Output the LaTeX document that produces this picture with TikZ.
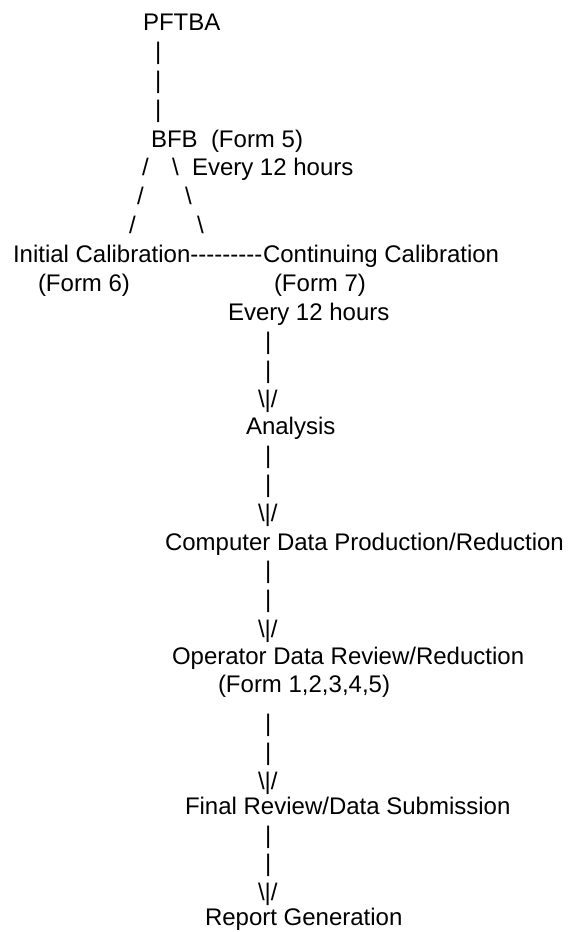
\documentclass[tikz,border=0pt]{standalone}
\usepackage{fontspec}
\setmainfont{Liberation Sans}
\newcommand{\hy}{-\kern0pt}
\newcommand{\arrowglyph}{\textbackslash\kern0pt|\kern0pt/}
\begin{document}
\begin{tikzpicture}[x=1pt,y=-1pt,
  lbl/.style={anchor=base west, inner sep=0pt, outer sep=0pt, font=\fontsize{24}{29}\selectfont, text=black}]
\useasboundingbox (0,0) rectangle (580,932);
% top
\node[lbl] (pftba) at (143,30) {PFTBA};
\node[lbl] (pa1) at (155,59) {|};
\node[lbl] (pa2) at (155,88) {|};
\node[lbl] (pa3) at (155,117) {|};
\node[lbl] (bfb) at (151,147) {BFB\ \ (Form 5)};
\node[lbl] (sl1) at (142,175) {/};
\node[lbl] (bs1) at (172,175) {\textbackslash};
\node[lbl] (ev1) at (192,175) {Every 12 hours};
\node[lbl] (sl2) at (137,204) {/};
\node[lbl] (bs2) at (185,204) {\textbackslash};
\node[lbl] (sl3) at (129,233) {/};
\node[lbl] (bs3) at (197,233) {\textbackslash};
% calibrations
\node[lbl] (ic) at (13,262) {Initial Calibration};
\node[lbl] (cc) at (263,262) {Continuing Calibration};
\node[lbl] (dash) at (ic.base east) {\hy\hy\hy\hy\hy\hy\hy\hy\hy};
\node[lbl] (f6) at (38,291) {(Form 6)};
\node[lbl] (f7) at (274,291) {(Form 7)};
\node[lbl] (ev2) at (228,320) {Every 12 hours};
% main column
\node[lbl] (pb1) at (265,349) {|};
\node[lbl] (pb2) at (265,378) {|};
\node[lbl] (ab) at (258,407) {\arrowglyph};
\node[lbl] (an) at (246,434) {Analysis};
\node[lbl] (pc1) at (265,463) {|};
\node[lbl] (pc2) at (265,492) {|};
\node[lbl] (ac) at (258,521) {\arrowglyph};
\node[lbl] (cdp) at (165,550) {Computer Data Production/Reduction};
\node[lbl] (pd1) at (265,578) {|};
\node[lbl] (pd2) at (265,607) {|};
\node[lbl] (ad) at (258,637) {\arrowglyph};
\node[lbl] (odr) at (172,664) {Operator Data Review/Reduction};
\node[lbl] (f15) at (218,692) {(Form 1,2,3,4,5)};
\node[lbl] (pe1) at (265,731) {|};
\node[lbl] (pe2) at (265,760) {|};
\node[lbl] (ae) at (258,789) {\arrowglyph};
\node[lbl] (frd) at (185,814) {Final Review/Data Submission};
\node[lbl] (pf1) at (265,843) {|};
\node[lbl] (pf2) at (265,871) {|};
\node[lbl] (af) at (258,900) {\arrowglyph};
\node[lbl] (rg) at (205,925) {Report Generation};
\end{tikzpicture}
\end{document}
